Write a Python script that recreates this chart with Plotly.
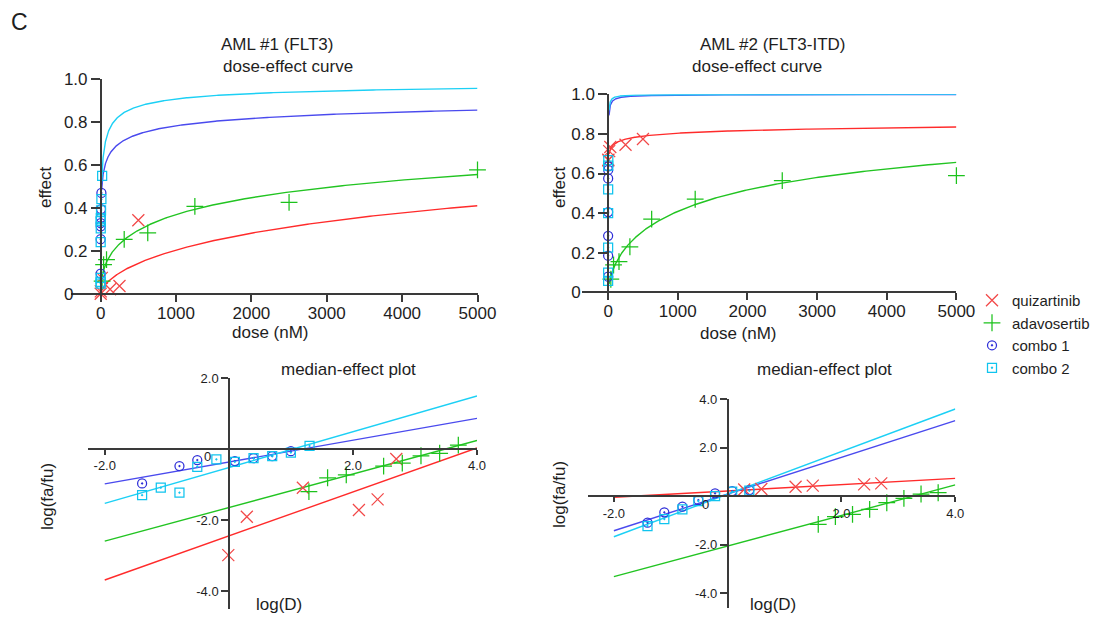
import numpy as np
import plotly.graph_objects as go

# target picture size and page offset compensation
TW, TH = 1099, 624
OFF = 8
W, H = TW - 2 * OFF, TH - 2 * OFF

# ---------------- data ----------------
series_names = ["quizartinib", "adavosertib", "combo 1", "combo 2"]

# AML #1 (FLT3) — dose (nM) and effect (fa)
aml1_quiz_dose = [0.98, 1.95, 15.6, 125, 250, 500]
aml1_quiz_effect = [0.001, 0.012, 0.075, 0.022, 0.037, 0.343]
aml1_adavo_dose = [19.53, 39.06, 78.125, 312.5, 625, 1250, 2500, 5000]
aml1_adavo_effect = [0.06, 0.137, 0.16, 0.254, 0.284, 0.408, 0.426, 0.577]
aml1_combo1_dose = [0.04, 0.16, 0.31, 1.25, 2.5, 5, 10]
aml1_combo1_effect = [0.095, 0.255, 0.33, 0.315, 0.355, 0.395, 0.47]
aml1_combo2_dose = [0.04, 0.08, 0.16, 0.31, 0.63, 1.25, 2.5, 5, 10, 20]
aml1_combo2_effect = [0.048, 0.075, 0.056, 0.241, 0.339, 0.305, 0.353, 0.389, 0.441, 0.549]

# AML #1 median-effect plot: log(fa/fu)
aml1_quiz_me = [-2.99, -1.91, -1.09, -1.72, -1.42, -0.28]
aml1_adavo_me = [-1.20, -0.81, -0.73, -0.48, -0.40, -0.19, -0.12, 0.11]
aml1_combo1_me = [-0.97, -0.48, -0.31, -0.34, -0.26, -0.20, -0.06]
aml1_combo2_me = [-1.30, -1.09, -1.23, -0.50, -0.29, -0.36, -0.26, -0.20, -0.10, 0.085]

# AML #1 median-effect fit: slope m and intercept (log(fa/fu) at log(D)=0)
aml1_slope = [0.62, 0.4725, 0.308, 0.504]
aml1_intercept = [-2.45, -1.65, -0.368, -0.523]

# AML #2 (FLT3-ITD)
aml2_quiz_dose = [1.95, 3.9, 15.6, 31.25, 250, 500]
aml2_quiz_effect = [0.666, 0.67, 0.713, 0.734, 0.745, 0.774]
aml2_adavo_dose = [39.06, 78.125, 156.25, 312.5, 625, 1250, 2500, 5000]
aml2_adavo_effect = [0.066, 0.138, 0.155, 0.23, 0.37, 0.47, 0.564, 0.589]
aml2_combo1_dose = [0.039, 0.077, 0.16, 0.305, 0.6, 1.2, 2.4]
aml2_combo1_effect = [0.079, 0.185, 0.285, 0.405, 0.575, 0.618, 0.636]
aml2_combo2_dose = [0.039, 0.077, 0.16, 0.305, 0.6, 1.2, 2.4]
aml2_combo2_effect = [0.058, 0.10, 0.226, 0.40, 0.52, 0.64, 0.668]

aml2_quiz_me = [0.28, 0.30, 0.396, 0.44, 0.494, 0.536]
aml2_adavo_me = [-1.155, -0.84, -0.742, -0.536, -0.264, -0.082, 0.095, 0.148]
aml2_combo1_me = [-1.088, -0.66, -0.428, -0.153, 0.124, 0.219, 0.26]
aml2_combo2_me = [-1.225, -0.936, -0.536, -0.194, 0.012, 0.19, 0.23]

aml2_slope = [0.1303, 0.63, 0.756, 0.878]
aml2_intercept = [0.2207, -2.05, 0.094, 0.088]

curve_dose_range = [12.5, 5000]
me_logd_span = [-2.0, 4.0]

dose_ticks = [0, 1000, 2000, 3000, 4000, 5000]
dose_tick_text = ["0", "1000", "2000", "3000", "4000", "5000"]
effect_ticks = [0, 0.2, 0.4, 0.6, 0.8, 1.0]
effect_tick_text = ["0\u00a0\u00a0\u00a0", "0.2", "0.4", "0.6", "0.8", "1.0"]
me_x_ticks = [-2, 2, 4]
me_x_tick_text = ["-2.0", "2.0", "4.0"]
me1_y_ticks = [2, -2, -4]
me1_y_tick_text = ["2.0", "-2.0", "-4.0"]
me2_y_ticks = [4, 2, -2, -4]
me2_y_tick_text = ["4.0", "2.0", "-2.0", "-4.0"]

# ---------------- styles ----------------
symbols = ["x-thin-open", "cross-thin-open", "circle-open-dot", "square-open-dot"]
marker_sizes = [12, 12, 9, 9]
marker_colors = ["#F24848", "#1CC21C", "#2E2ED8", "#10C4EE"]
line_colors = ["#FF2B2B", "#22C422", "#4A4AEE", "#1CD0F5"]
AXC = "#3a3a3a"
TXT = "#1e1e1e"
FONT = "Liberation Sans, Arial, sans-serif"


def fx(p):
    return (p - OFF) / W


def fy(p):
    return 1 - (p - OFF) / H


fig = go.Figure()

panels = {
    "tl": dict(xs="x", ys="y"),
    "tr": dict(xs="x2", ys="y2"),
    "bl": dict(xs="x3", ys="y3"),
    "br": dict(xs="x4", ys="y4"),
}

top_sets = {
    "tl": ([aml1_quiz_dose, aml1_adavo_dose, aml1_combo1_dose, aml1_combo2_dose],
           [aml1_quiz_effect, aml1_adavo_effect, aml1_combo1_effect, aml1_combo2_effect],
           aml1_slope, aml1_intercept),
    "tr": ([aml2_quiz_dose, aml2_adavo_dose, aml2_combo1_dose, aml2_combo2_dose],
           [aml2_quiz_effect, aml2_adavo_effect, aml2_combo1_effect, aml2_combo2_effect],
           aml2_slope, aml2_intercept),
}
bot_sets = {
    "bl": ("tl", [aml1_quiz_me, aml1_adavo_me, aml1_combo1_me, aml1_combo2_me]),
    "br": ("tr", [aml2_quiz_me, aml2_adavo_me, aml2_combo1_me, aml2_combo2_me]),
}

# dose-effect curves (median-effect model fa = 1/(1+(Dm/D)^m))
for key, (doses, effects, slopes, inters) in top_sets.items():
    ax = panels[key]
    for i in range(4):
        d = np.geomspace(curve_dose_range[0], curve_dose_range[1], 500)
        fa = 1.0 / (1.0 + 10 ** (-(slopes[i] * np.log10(d) + inters[i])))
        fig.add_trace(go.Scatter(x=d, y=fa, mode="lines", xaxis=ax["xs"], yaxis=ax["ys"],
                                 line=dict(color=line_colors[i], width=1.4),
                                 showlegend=False, hoverinfo="skip"))

# median-effect lines
for key, (src, mes) in bot_sets.items():
    ax = panels[key]
    slopes, inters = top_sets[src][2], top_sets[src][3]
    for i in range(4):
        xs = np.array(me_logd_span)
        fig.add_trace(go.Scatter(x=xs, y=slopes[i] * xs + inters[i], mode="lines",
                                 xaxis=ax["xs"], yaxis=ax["ys"],
                                 line=dict(color=line_colors[i], width=1.4),
                                 showlegend=False, hoverinfo="skip"))

# data points
for key, (doses, effects, slopes, inters) in top_sets.items():
    ax = panels[key]
    for i in range(4):
        fig.add_trace(go.Scatter(x=doses[i], y=effects[i], mode="markers",
                                 xaxis=ax["xs"], yaxis=ax["ys"], name=series_names[i],
                                 showlegend=(key == "tl"), legendgroup=series_names[i],
                                 cliponaxis=False,
                                 marker=dict(symbol=symbols[i], size=marker_sizes[i],
                                             color=marker_colors[i],
                                             line=dict(color=marker_colors[i], width=1.25))))
for key, (src, mes) in bot_sets.items():
    ax = panels[key]
    doses = top_sets[src][0]
    for i in range(4):
        fig.add_trace(go.Scatter(x=np.log10(doses[i]), y=mes[i], mode="markers",
                                 xaxis=ax["xs"], yaxis=ax["ys"], name=series_names[i],
                                 showlegend=False, legendgroup=series_names[i],
                                 cliponaxis=False,
                                 marker=dict(symbol=symbols[i], size=marker_sizes[i],
                                             color=marker_colors[i],
                                             line=dict(color=marker_colors[i], width=1.25))))


def axis(domain, rng, position, tickvals, ticktext, ticklen, fontsize, standoff=0):
    return dict(domain=domain, range=rng, anchor="free", position=position,
                showline=True, linecolor=AXC, linewidth=1.5, ticks="outside",
                ticklen=ticklen, tickwidth=1.5, tickcolor=AXC, tickvals=tickvals,
                ticktext=ticktext, showgrid=False, zeroline=False,
                ticklabelstandoff=standoff,
                tickfont=dict(family=FONT, size=fontsize, color=TXT))


fig.update_layout(
    width=W, height=H,
    margin=dict(l=0, r=0, t=0, b=0, autoexpand=False),
    paper_bgcolor="white", plot_bgcolor="rgba(0,0,0,0)",
    font=dict(family=FONT, color=TXT),
    xaxis=axis([fx(71.4), fx(477.5)], [-388, 5000], fy(294), dose_ticks,
               dose_tick_text, 7, 17, -3),
    yaxis=axis([fy(294), fy(79)], [0, 1.0], fx(100.7), effect_ticks, effect_tick_text, 9, 17),
    xaxis2=axis([fx(582), fx(956.4)], [-375, 5000], fy(292.3), dose_ticks,
                dose_tick_text, 7, 17, -3),
    yaxis2=axis([fy(292.3), fy(94.3)], [0, 1.0], fx(608.1), effect_ticks, effect_tick_text, 9, 17),
    xaxis3=axis([fx(88), fx(477)], [-2.27, 4.0], fy(449), me_x_ticks, me_x_tick_text, 5, 13),
    yaxis3=axis([fy(608.75), fy(378)], [-4.5, 2.0], fx(229), me1_y_ticks, me1_y_tick_text, 7, 13),
    xaxis4=axis([fx(587.7), fx(955.3)], [-2.46, 4.0], fy(496.3), me_x_ticks, me_x_tick_text, 5, 13),
    yaxis4=axis([fy(607.9), fy(399.3)], [-4.6, 4.0], fx(727.7), me2_y_ticks, me2_y_tick_text, 7, 13),
    legend=dict(x=fx(972), y=fy(284), xanchor="left", yanchor="top",
                bgcolor="rgba(0,0,0,0)", font=dict(family=FONT, size=15, color=TXT),
                tracegroupgap=0, itemwidth=30),
)

texts = [
    ("C", 19, 22, 23, 0),
    ("AML #1 (FLT3)", 277, 45, 17, 0),
    ("dose-effect curve", 288, 66, 17, 0),
    ("AML #2 (FLT3-ITD)", 772, 45, 17, 0),
    ("dose-effect curve", 757, 66, 17, 0),
    ("effect", 46, 187, 17, -90),
    ("effect", 560, 187, 17, -90),
    ("dose (nM)", 270, 332, 17, 0),
    ("dose (nM)", 738, 333, 17, 0),
    ("median-effect plot", 348, 369, 17, 0),
    ("median-effect plot", 824, 369, 17, 0),
    ("log(D)", 279, 604, 17, 0),
    ("log(D)", 773, 604, 17, 0),
    ("log(fa/fu)", 47, 497, 17, -90),
    ("log(fa/fu)", 559, 495, 17, -90),
    ("0", 207, 456, 13, 0),
    ("0", 705, 504, 13, 0),
]
for t, x, y, s, ang in texts:
    fig.add_annotation(text=t, x=fx(x), y=fy(y), xref="paper", yref="paper",
                       xanchor="center", yanchor="middle", showarrow=False,
                       textangle=ang, font=dict(family=FONT, size=s, color=TXT))

fig.write_html("out.html")
